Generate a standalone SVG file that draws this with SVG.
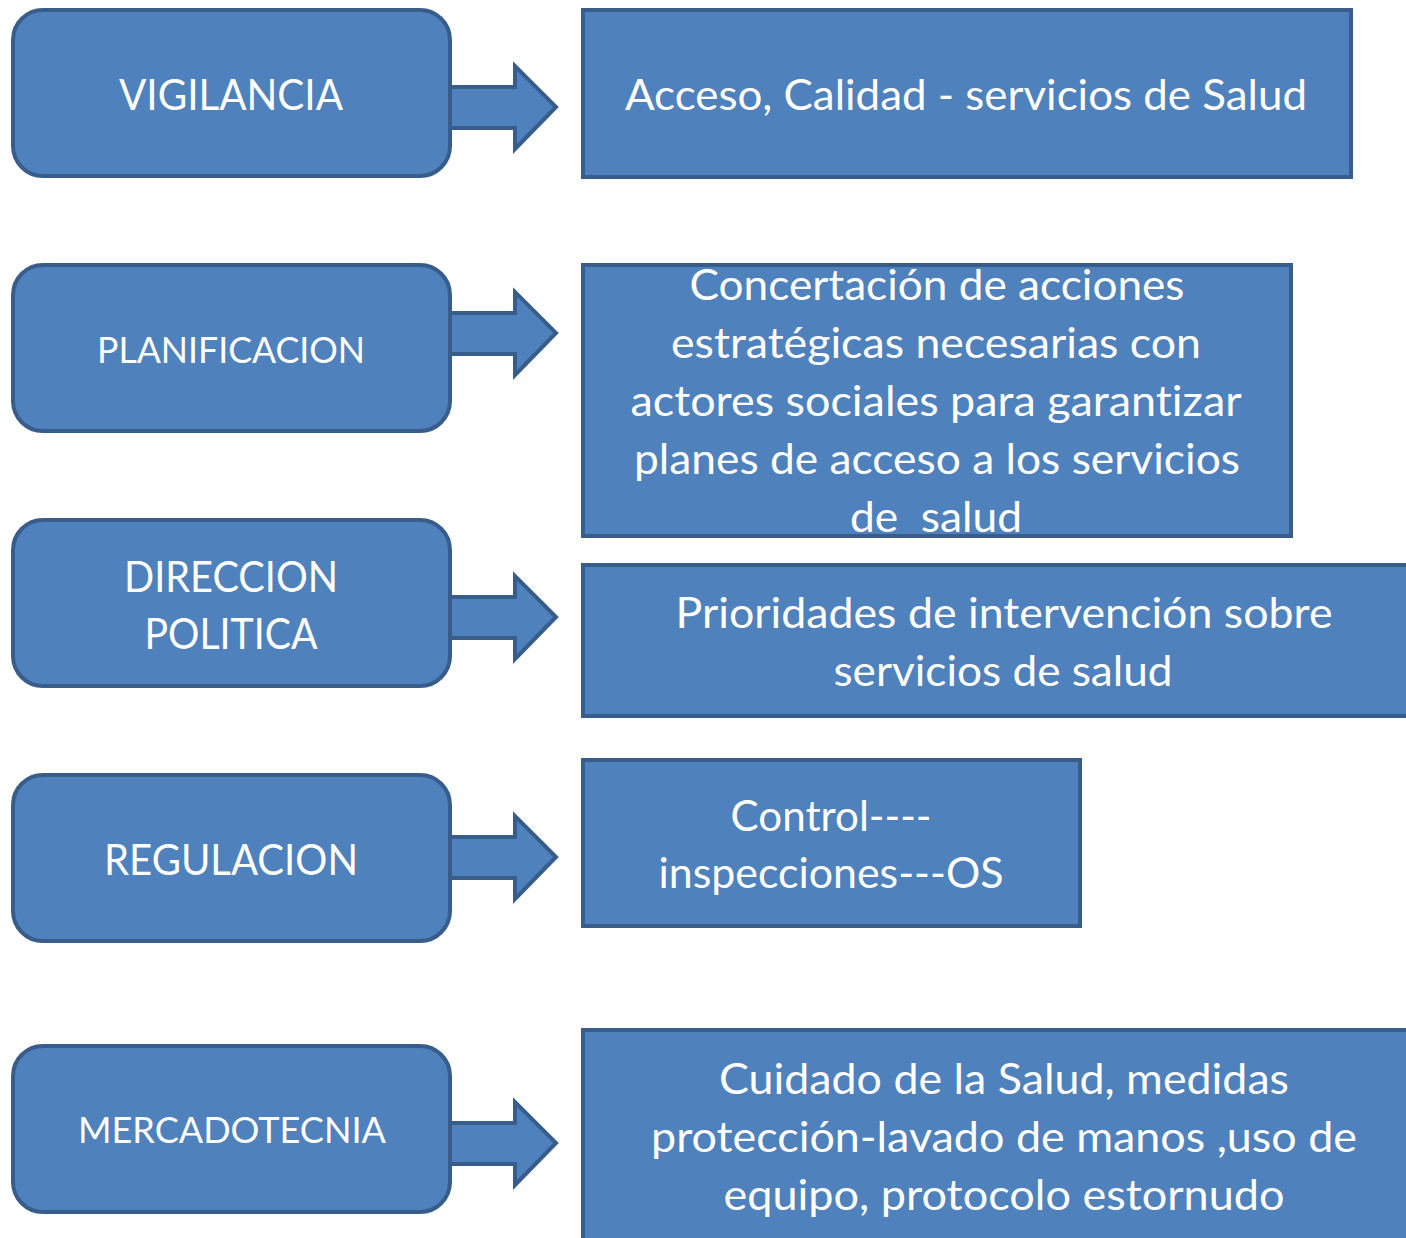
<svg xmlns="http://www.w3.org/2000/svg" width="1406" height="1238" viewBox="0 0 1406 1238">
<style>
.box{fill:#4F81BD;stroke:#385D8A;stroke-width:4}
.arr{fill:#4F81BD;stroke:#385D8A;stroke-width:4;stroke-linejoin:miter}
.t{font-family:Lato,"Open Sans","Liberation Sans",sans-serif;fill:#FFFFFF;font-size:43px;font-variant-ligatures:none}
.s{font-size:37px}
</style>
<rect width="1406" height="1238" fill="#FFFFFF"/>
<g id="connectors">
<path class="arr" d="M448,87 L515,87 L515,66 L556,107 L515,149 L515,128 L448,128 Z"/>
<path class="arr" d="M448,313 L515,313 L515,292 L556,333 L515,375 L515,354 L448,354 Z"/>
<path class="arr" d="M448,597 L515,597 L515,576 L556,617 L515,659 L515,638 L448,638 Z"/>
<path class="arr" d="M448,837 L515,837 L515,816 L556,857 L515,899 L515,878 L448,878 Z"/>
<path class="arr" d="M448,1123 L515,1123 L515,1102 L556,1143 L515,1185 L515,1164 L448,1164 Z"/>
</g>
<g id="n-vigilancia">
<rect class="box" x="13" y="10" width="437" height="166" rx="30"/>
<text class="t" x="231" y="110" text-anchor="middle" textLength="224" lengthAdjust="spacingAndGlyphs">VIGILANCIA</text>
</g>
<g id="n-acceso">
<rect class="box" x="583" y="10" width="768" height="167"/>
<text class="t" x="966" y="110" text-anchor="middle" textLength="682" lengthAdjust="spacingAndGlyphs">Acceso, Calidad - servicios de Salud</text>
</g>
<g id="n-planificacion">
<rect class="box" x="13" y="265" width="437" height="166" rx="30"/>
<text class="t s" x="231" y="363" text-anchor="middle" textLength="268" lengthAdjust="spacingAndGlyphs">PLANIFICACION</text>
</g>
<g id="n-concertacion">
<rect class="box" x="583" y="265" width="708" height="271"/>
<text class="t" x="937" y="300" text-anchor="middle" textLength="495" lengthAdjust="spacingAndGlyphs">Concertación de acciones</text>
<text class="t" x="936" y="358" text-anchor="middle" textLength="530" lengthAdjust="spacingAndGlyphs">estratégicas necesarias con</text>
<text class="t" x="936" y="416" text-anchor="middle" textLength="611" lengthAdjust="spacingAndGlyphs">actores sociales para garantizar</text>
<text class="t" x="937" y="474" text-anchor="middle" textLength="606" lengthAdjust="spacingAndGlyphs">planes de acceso a los servicios</text>
<text class="t" x="936" y="532" text-anchor="middle" textLength="172" lengthAdjust="spacingAndGlyphs" xml:space="preserve">de  salud</text>
</g>
<g id="n-direccion">
<rect class="box" x="13" y="520" width="437" height="166" rx="30"/>
<text class="t" x="231" y="592" text-anchor="middle" textLength="214" lengthAdjust="spacingAndGlyphs">DIRECCION</text>
<text class="t" x="231" y="649" text-anchor="middle" textLength="173" lengthAdjust="spacingAndGlyphs">POLITICA</text>
</g>
<g id="n-prioridades">
<rect class="box" x="583" y="565" width="830" height="151"/>
<text class="t" x="1004" y="628" text-anchor="middle" textLength="657" lengthAdjust="spacingAndGlyphs">Prioridades de intervención sobre</text>
<text class="t" x="1003" y="686" text-anchor="middle" textLength="339" lengthAdjust="spacingAndGlyphs">servicios de salud</text>
</g>
<g id="n-regulacion">
<rect class="box" x="13" y="775" width="437" height="166" rx="30"/>
<text class="t" x="231" y="875" text-anchor="middle" textLength="254" lengthAdjust="spacingAndGlyphs">REGULACION</text>
</g>
<g id="n-control">
<rect class="box" x="583" y="760" width="497" height="166"/>
<text class="t" x="831" y="831" text-anchor="middle" textLength="201" lengthAdjust="spacingAndGlyphs">Control----</text>
<text class="t" x="831" y="888" text-anchor="middle" textLength="345" lengthAdjust="spacingAndGlyphs">inspecciones---OS</text>
</g>
<g id="n-mercadotecnia">
<rect class="box" x="13" y="1046" width="437" height="166" rx="30"/>
<text class="t s" x="232" y="1143" text-anchor="middle" textLength="308" lengthAdjust="spacingAndGlyphs">MERCADOTECNIA</text>
</g>
<g id="n-cuidado">
<rect class="box" x="583" y="1030" width="830" height="220"/>
<text class="t" x="1004" y="1094" text-anchor="middle" textLength="570" lengthAdjust="spacingAndGlyphs">Cuidado de la Salud, medidas</text>
<text class="t" x="1004" y="1152" text-anchor="middle" textLength="706" lengthAdjust="spacingAndGlyphs">protección-lavado de manos ,uso de</text>
<text class="t" x="1004" y="1210" text-anchor="middle" textLength="561" lengthAdjust="spacingAndGlyphs">equipo, protocolo estornudo</text>
</g>
</svg>
